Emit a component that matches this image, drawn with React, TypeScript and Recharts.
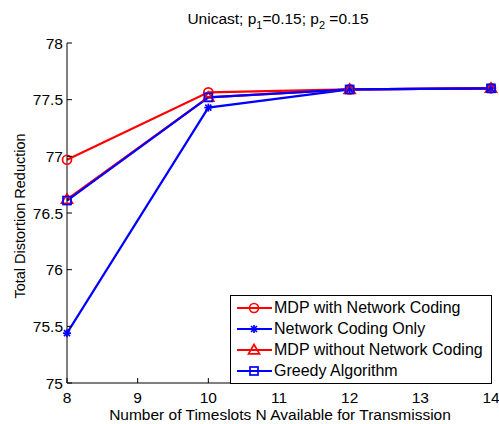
import { LineChart, Line, XAxis, YAxis } from 'recharts';

// values
const timeslots = [8, 10, 12, 14];
const mdpWithNC = [76.97, 77.565, 77.59, 77.6];
const ncOnly = [75.44, 77.43, 77.59, 77.6];
const mdpWithoutNC = [76.62, 77.52, 77.59, 77.6];
const greedy = [76.61, 77.52, 77.59, 77.6];

const xTicks = [8, 9, 10, 11, 12, 13, 14];
const yTicks = [75, 75.5, 76, 76.5, 77, 77.5, 78];

const seriesInfo = [
  { key: 'mdpNC', name: 'MDP with Network Coding', color: '#ff0000', shape: 'circle' },
  { key: 'ncOnly', name: 'Network Coding Only', color: '#0000ff', shape: 'star' },
  { key: 'mdpNoNC', name: 'MDP without Network Coding', color: '#ff0000', shape: 'triangle' },
  { key: 'greedy', name: 'Greedy Algorithm', color: '#0000ff', shape: 'square' },
];

const FONT = '"Liberation Sans", Arial, Helvetica, sans-serif';

const chartData = timeslots.map((n, i) => ({
  n,
  mdpNC: mdpWithNC[i],
  ncOnly: ncOnly[i],
  mdpNoNC: mdpWithoutNC[i],
  greedy: greedy[i],
}));

function Marker({ cx, cy, shape, color }: { cx: number; cy: number; shape: string; color: string }) {
  if (cx == null || cy == null) return null;
  const sw = 1.7;
  if (shape === 'circle') {
    return <circle cx={cx} cy={cy} r={4.5} fill="none" stroke={color} strokeWidth={sw} />;
  }
  if (shape === 'square') {
    return <rect x={cx - 4} y={cy - 4} width={8} height={8} fill="none" stroke={color} strokeWidth={sw} />;
  }
  if (shape === 'triangle') {
    const r = 5.5;
    return (
      <polygon
        points={`${cx},${cy - r} ${cx + r},${cy + r * 0.7} ${cx - r},${cy + r * 0.7}`}
        fill="none"
        stroke={color}
        strokeWidth={sw}
      />
    );
  }
  const s = 4;
  const d = 3;
  return (
    <g stroke={color} strokeWidth={sw}>
      <line x1={cx - s} y1={cy} x2={cx + s} y2={cy} />
      <line x1={cx} y1={cy - s} x2={cx} y2={cy + s} />
      <line x1={cx - d} y1={cy - d} x2={cx + d} y2={cy + d} />
      <line x1={cx - d} y1={cy + d} x2={cx + d} y2={cy - d} />
    </g>
  );
}

const BottomTick = (props: any) => {
  const { x, y, payload } = props;
  return (
    <g>
      <line x1={x} y1={y} x2={x} y2={y - 5} stroke="#000" />
      <text x={x} y={y + 19.5} textAnchor="middle" fontSize={15.5} fontFamily={FONT} fill="#000">
        {payload.value}
      </text>
    </g>
  );
};

const LeftTick = (props: any) => {
  const { x, y, payload } = props;
  return (
    <g>
      <line x1={x} y1={y} x2={x + 5} y2={y} stroke="#000" />
      <text x={x - 4} y={y + 5.5} textAnchor="end" fontSize={15.5} fontFamily={FONT} fill="#000">
        {payload.value}
      </text>
    </g>
  );
};

const TopTick = (props: any) => {
  const { x, y } = props;
  return <line x1={x} y1={y} x2={x} y2={y + 5} stroke="#000" />;
};

const RightTick = (props: any) => {
  const { x, y } = props;
  return <line x1={x} y1={y} x2={x - 5} y2={y} stroke="#000" />;
};

const LegendBox = () => (
  <div
    style={{
      position: 'absolute',
      left: 230,
      top: 295,
      width: 262,
      height: 89,
      border: '1px solid #000',
      background: '#fff',
      boxSizing: 'border-box',
      padding: '1px 0 0 4px',
      fontFamily: FONT,
      fontSize: 16,
    }}
  >
    {seriesInfo.map((s) => (
      <div key={s.key} style={{ display: 'flex', alignItems: 'center', height: 21 }}>
        <svg width={38} height={16} style={{ flex: 'none' }}>
          <line x1={2} y1={8} x2={37} y2={8} stroke={s.color} strokeWidth={2.2} />
          <Marker cx={19} cy={8} shape={s.shape} color={s.color} />
        </svg>
        <span style={{ marginLeft: 1, color: '#000', whiteSpace: 'nowrap' }}>{s.name}</span>
      </div>
    ))}
  </div>
);

export default function App() {
  return (
    <div style={{ position: 'absolute', left: 0, top: 0, width: 499, height: 424, background: '#fff' }}>
      <LineChart width={499} height={424} data={chartData} margin={{ top: 43, right: 8, bottom: 0, left: 0 }}>
        <XAxis
          xAxisId="bottom"
          dataKey="n"
          type="number"
          domain={[8, 14]}
          ticks={xTicks}
          height={41}
          tickSize={0}
          tickMargin={0}
          tick={<BottomTick />}
          axisLine={{ stroke: '#000' }}
          tickLine={false}
        />
        <XAxis
          xAxisId="top"
          dataKey="n"
          type="number"
          orientation="top"
          domain={[8, 14]}
          ticks={xTicks}
          height={0}
          tickSize={0}
          tickMargin={0}
          tick={<TopTick />}
          axisLine={{ stroke: '#000' }}
          tickLine={false}
        />
        <YAxis
          yAxisId="left"
          type="number"
          domain={[75, 78]}
          ticks={yTicks}
          width={67}
          tickSize={0}
          tickMargin={0}
          tick={<LeftTick />}
          axisLine={{ stroke: '#000' }}
          tickLine={false}
        />
        <YAxis
          yAxisId="right"
          orientation="right"
          type="number"
          domain={[75, 78]}
          ticks={yTicks}
          width={0}
          tickSize={0}
          tickMargin={0}
          tick={<RightTick />}
          axisLine={{ stroke: '#000' }}
          tickLine={false}
        />
        {seriesInfo.map((s) => (
          <Line
            key={s.key}
            xAxisId="bottom"
            yAxisId="left"
            type="linear"
            dataKey={s.key}
            name={s.name}
            stroke={s.color}
            strokeWidth={2.2}
            isAnimationActive={false}
            dot={(p: any) => <Marker key={`${s.key}-${p.index}`} cx={p.cx} cy={p.cy} shape={s.shape} color={s.color} />}
            activeDot={false}
          />
        ))}
      </LineChart>
      <LegendBox />
      <svg width={499} height={424} style={{ position: 'absolute', left: 0, top: 0, pointerEvents: 'none' }}>
        <text x={278} y={24} textAnchor="middle" fontSize={15.5} fontFamily={FONT} fill="#000">
          Unicast; p
          <tspan fontSize={11} dy={5}>1</tspan>
          <tspan dy={-5}>=0.15; p</tspan>
          <tspan fontSize={11} dy={5}>2</tspan>
          <tspan dy={-5}> =0.15</tspan>
        </text>
        <text x={280} y={419.5} textAnchor="middle" fontSize={15.5} fontFamily={FONT} fill="#000">
          Number of Timeslots N Available for Transmission
        </text>
        <text
          x={0}
          y={0}
          transform="translate(25,216) rotate(-90)"
          textAnchor="middle"
          fontSize={14.5}
          fontFamily={FONT}
          fill="#000"
        >
          Total Distortion Reduction
        </text>
      </svg>
    </div>
  );
}
